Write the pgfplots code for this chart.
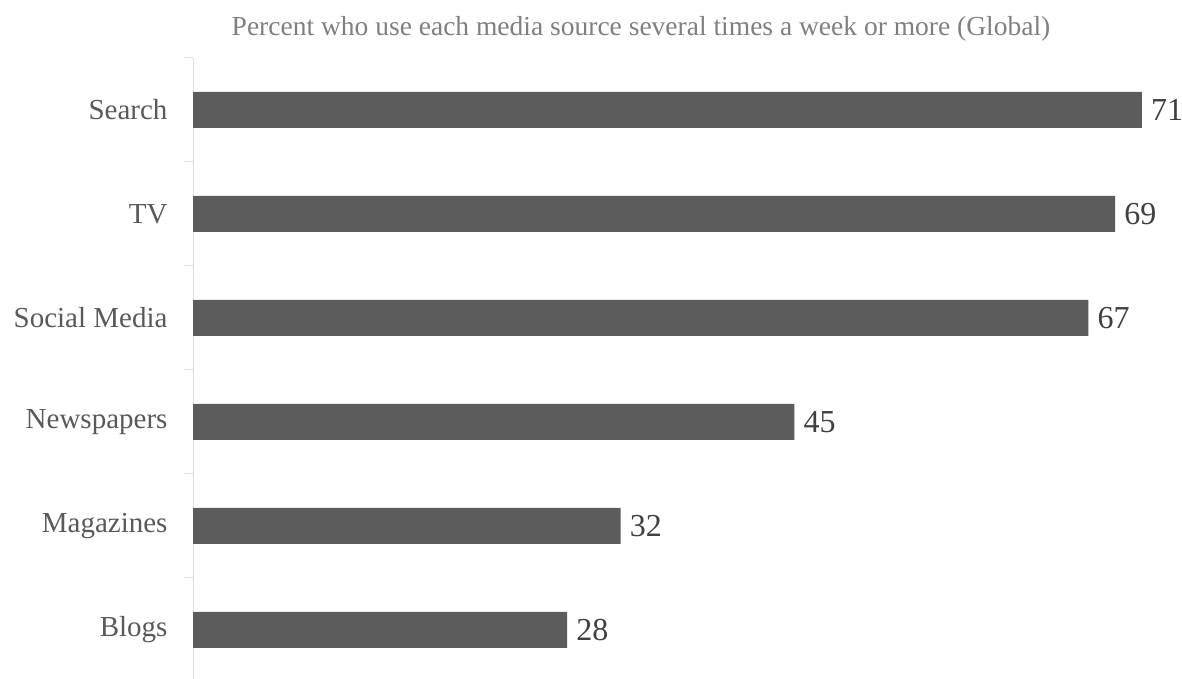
\documentclass[border=0pt]{standalone}
\usepackage{pgfplots}
\pgfplotsset{compat=1.18}
\usepackage{fontspec}
\setmainfont{Liberation Serif}
\definecolor{barc}{HTML}{5C5C5C}
\definecolor{lineC}{HTML}{DDDDDD}
\definecolor{labelC}{HTML}{595959}
\definecolor{titleC}{HTML}{7F7F7F}
\definecolor{valC}{HTML}{404040}
\begin{document}
\begin{tikzpicture}[x=1pt,y=1pt]
\useasboundingbox (0,0) rectangle (1182,679);
\node[text=titleC, font=\fontsize{27.5}{29}\selectfont] at (641,650) {Percent who use each media source several times a week or more (Global)};
\begin{axis}[
  at={(193pt,-3pt)}, anchor=south west,
  scale only axis, width=989pt, height=624pt,
  xmin=0, xmax=74, ymin=-0.5, ymax=5.5,
  axis x line=none, axis y line=left,
  y axis line style={draw=lineC, -, line width=1pt},
  xtick=\empty,
  ytick={0,...,5},
  yticklabels={Blogs,Magazines,Newspapers,Social Media,TV,Search},
  minor ytick={-0.5,0.5,...,5.5},
  major tick length=0pt, minor tick length=8pt,
  tick align=outside,
  every tick/.style={draw=lineC, line width=1pt},
  minor tick style={draw=lineC, line width=1pt},
  yticklabel style={font=\fontsize{29}{31}\selectfont, text=labelC, xshift=-22pt},
  /pgf/number format/assume math mode=true,
  clip=false,
]
\addplot[xbar, fill=barc, draw=none, bar width=36pt,
  nodes near coords,
  nodes near coords style={font=\fontsize{32}{34}\selectfont, text=valC, anchor=west, inner sep=9pt}]
  coordinates {(28,0) (32,1) (45,2) (67,3) (69,4) (71,5)};
\end{axis}
\end{tikzpicture}
\end{document}
